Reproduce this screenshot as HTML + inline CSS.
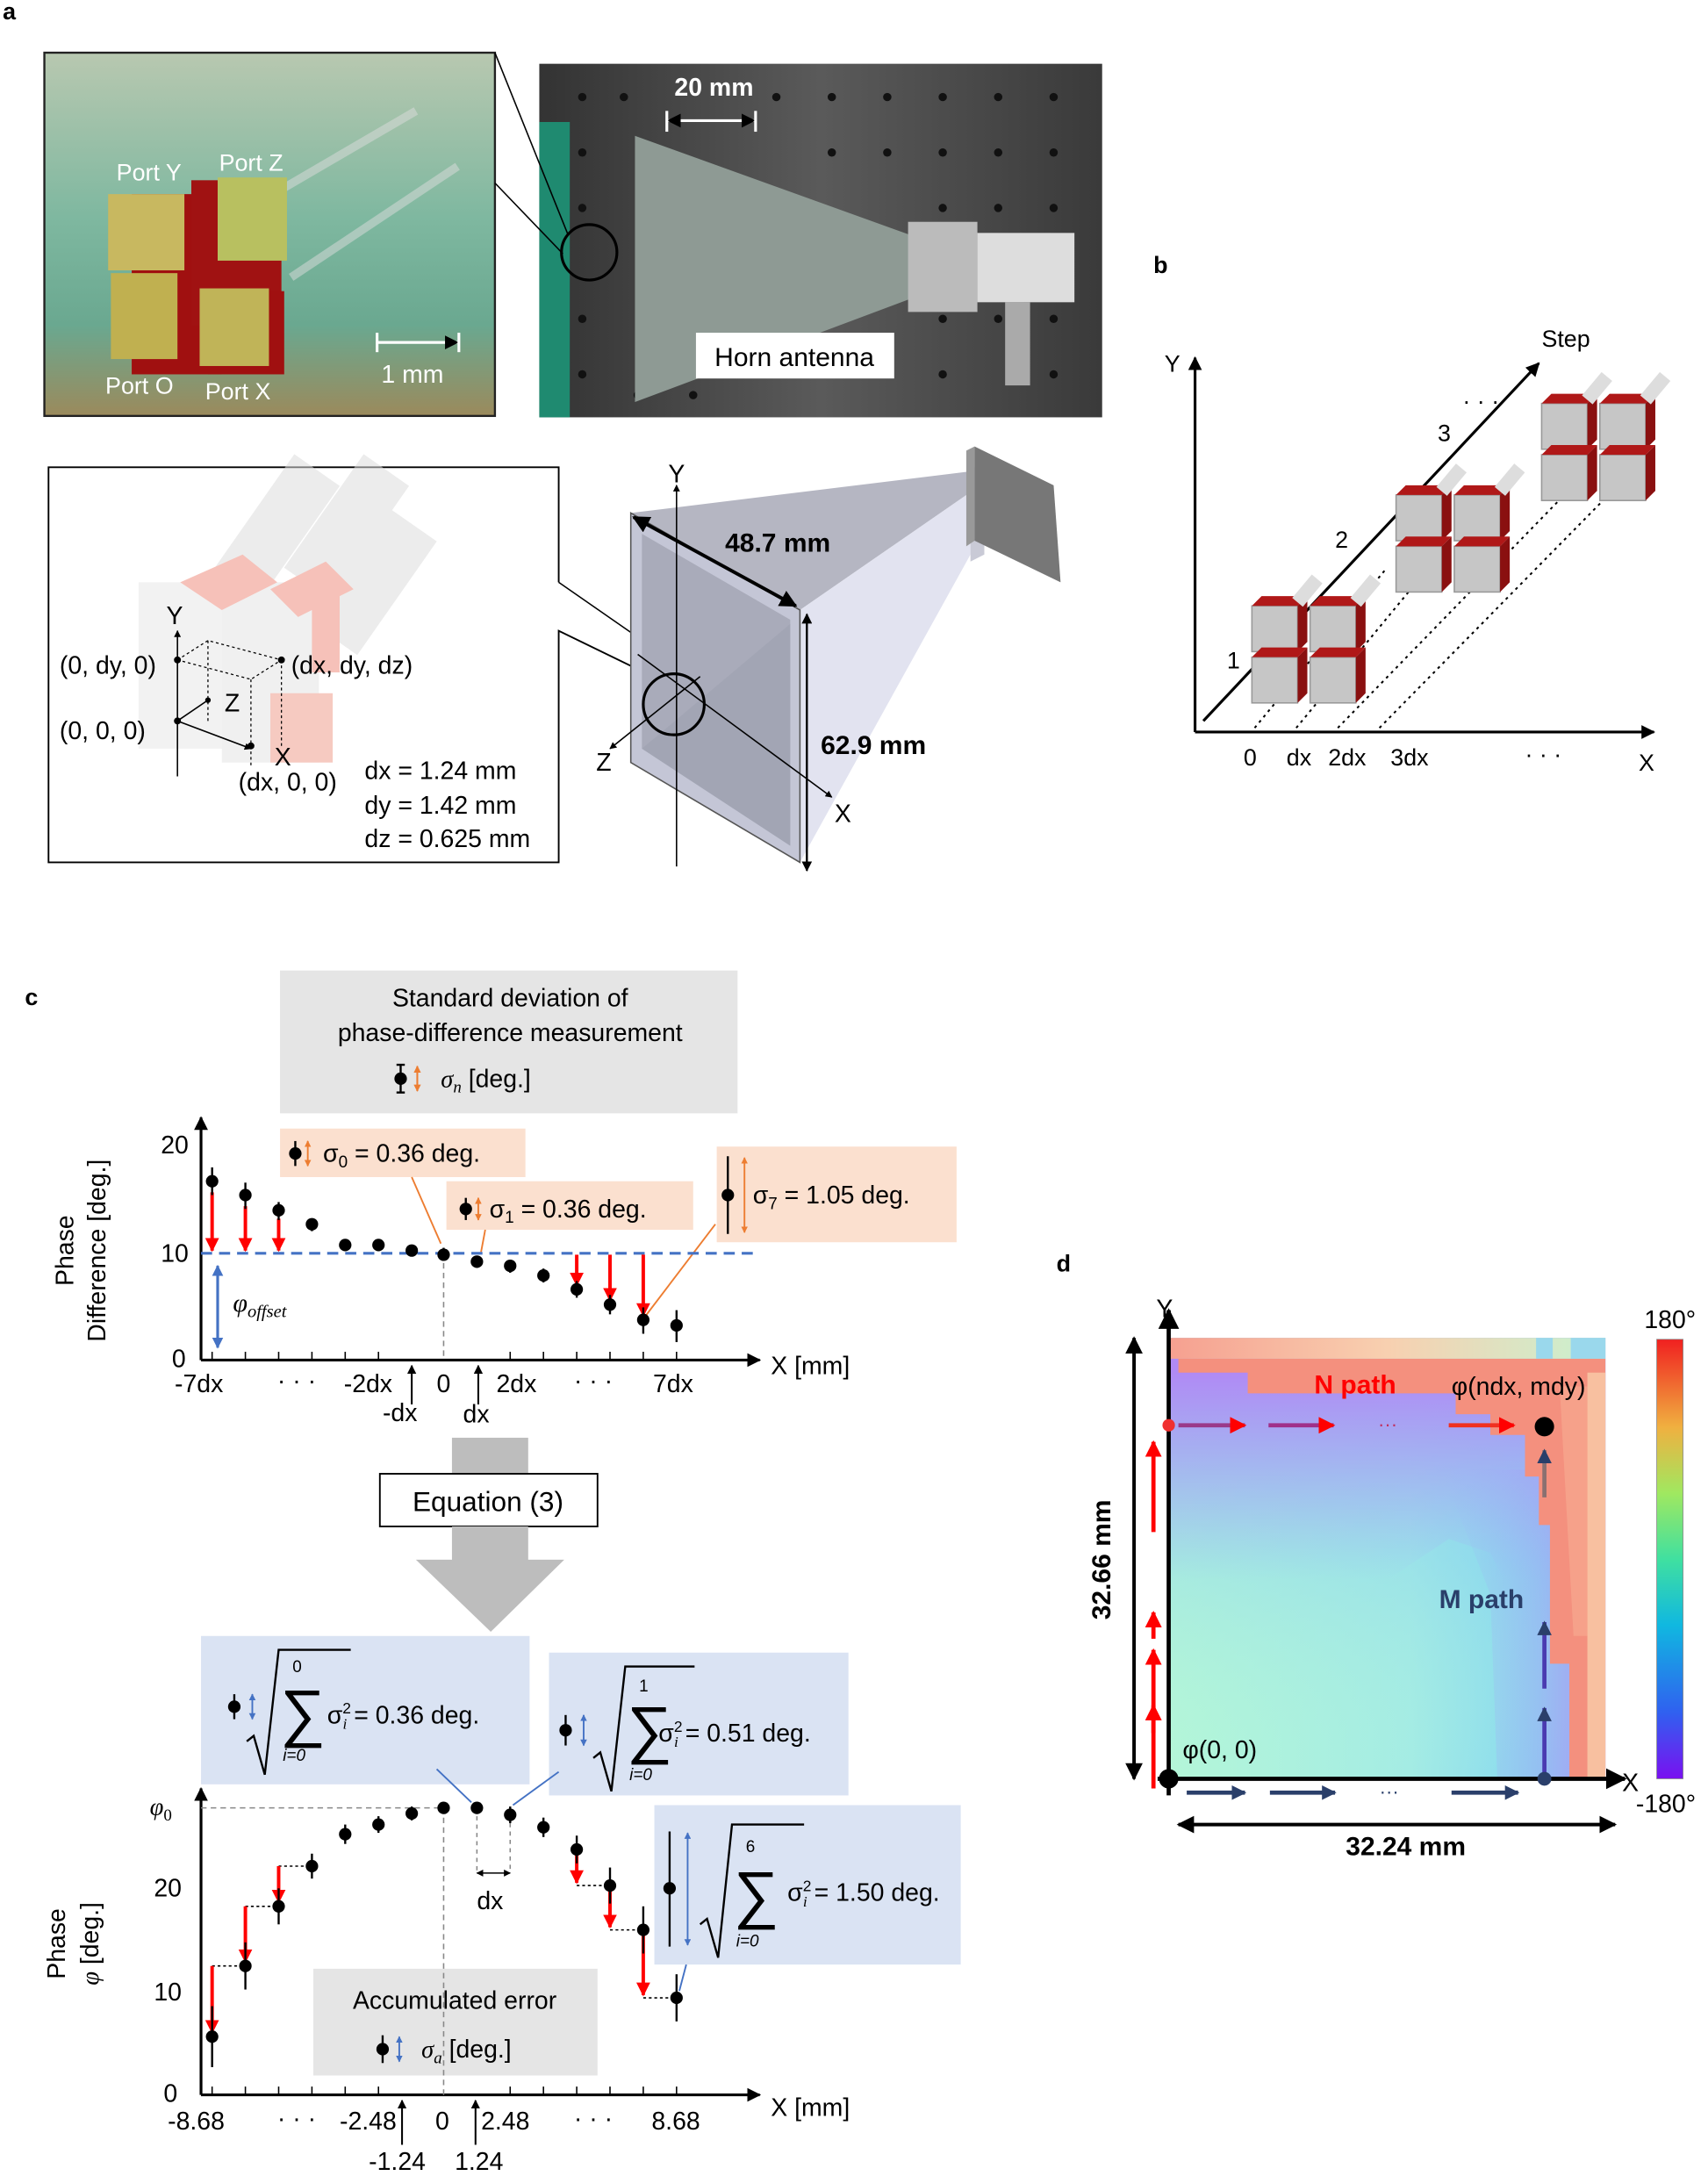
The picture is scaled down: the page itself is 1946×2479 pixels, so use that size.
<!DOCTYPE html>
<html><head><meta charset="utf-8"><style>
html,body{margin:0;padding:0;background:#fff}
svg{display:block}
text{font-family:"Liberation Sans",sans-serif}
.s{font-family:"Liberation Serif",serif;font-style:italic}
</style></head><body>
<svg width="1946" height="2479" viewBox="0 0 1232 1569.5" preserveAspectRatio="none" xmlns="http://www.w3.org/2000/svg">
<defs>
<marker id="ak" viewBox="0 0 10 10" refX="9" refY="5" markerWidth="5" markerHeight="5" orient="auto-start-reverse"><path d="M0,0L10,5L0,10z" fill="#000"/></marker>
<marker id="ar" viewBox="0 0 10 10" refX="9" refY="5" markerWidth="4" markerHeight="4" orient="auto"><path d="M0,0L10,5L0,10z" fill="#f00"/></marker>
<marker id="ab" viewBox="0 0 10 10" refX="9" refY="5" markerWidth="4" markerHeight="4" orient="auto-start-reverse"><path d="M0,0L10,5L0,10z" fill="#4472c4"/></marker>
<marker id="ao" viewBox="0 0 10 10" refX="9" refY="5" markerWidth="4" markerHeight="4" orient="auto-start-reverse"><path d="M0,0L10,5L0,10z" fill="#ed7d31"/></marker>
<marker id="an" viewBox="0 0 10 10" refX="9" refY="5" markerWidth="3.5" markerHeight="3.5" orient="auto"><path d="M0,0L10,5L0,10z" fill="#2a3f6a"/></marker>
<linearGradient id="ph1" x1="0" y1="0" x2="0" y2="1"><stop offset="0" stop-color="#b8c8b0"/><stop offset="0.45" stop-color="#7fb8a0"/><stop offset="0.75" stop-color="#6aa890"/><stop offset="1" stop-color="#9b8a5c"/></linearGradient>
<linearGradient id="ph2" x1="0" y1="0" x2="1" y2="0"><stop offset="0" stop-color="#333"/><stop offset="0.5" stop-color="#5a5a5a"/><stop offset="1" stop-color="#3a3a3a"/></linearGradient>
<linearGradient id="hx" x1="0" y1="0" x2="1" y2="0"><stop offset="0" stop-color="#b4f6d8"/><stop offset="0.55" stop-color="#a4ece4"/><stop offset="0.85" stop-color="#86d8f0"/><stop offset="1" stop-color="#9ab8f6"/></linearGradient>
<linearGradient id="hy" x1="0" y1="0" x2="0" y2="1"><stop offset="0" stop-color="#a0a8f4" stop-opacity="0.8"/><stop offset="0.5" stop-color="#8ad0f0" stop-opacity="0.35"/><stop offset="1" stop-color="#b4f6d8" stop-opacity="0"/></linearGradient>
<linearGradient id="pu" gradientUnits="userSpaceOnUse" x1="0" y1="990" x2="0" y2="1140"><stop offset="0" stop-color="#b08af4" stop-opacity="1"/><stop offset="0.35" stop-color="#a8a0f4" stop-opacity="0.75"/><stop offset="1" stop-color="#a0b8f4" stop-opacity="0"/></linearGradient>
<linearGradient id="pu2" x1="0" y1="0" x2="1" y2="0"><stop offset="0" stop-color="#9ab8f6" stop-opacity="0"/><stop offset="1" stop-color="#b08af4" stop-opacity="1"/></linearGradient>
<linearGradient id="top" x1="0" y1="0" x2="1" y2="0"><stop offset="0" stop-color="#f6a090"/><stop offset="0.5" stop-color="#f8d0b0"/><stop offset="1" stop-color="#c8f2d0"/></linearGradient>
<linearGradient id="cb" x1="0" y1="1" x2="0" y2="0"><stop offset="0" stop-color="#7a10f0"/><stop offset="0.15" stop-color="#3060f0"/><stop offset="0.35" stop-color="#10b8e0"/><stop offset="0.5" stop-color="#40e0a0"/><stop offset="0.65" stop-color="#a0e860"/><stop offset="0.8" stop-color="#f0b040"/><stop offset="1" stop-color="#f02020"/></linearGradient>
</defs>

<!-- panel a -->
<text x="2" y="14" font-size="17" font-weight="bold">a</text>
<rect x="32" y="38" width="325" height="262" fill="url(#ph1)" stroke="#222" stroke-width="1.5"/>
<g stroke="#ddd" stroke-width="6" opacity="0.5"><line x1="180" y1="150" x2="300" y2="80"/><line x1="210" y1="200" x2="330" y2="120"/></g>
<rect x="95" y="140" width="65" height="130" fill="#a01010"/><rect x="138" y="130" width="65" height="105" fill="#a01212"/><rect x="150" y="210" width="55" height="60" fill="#a01010"/>
<rect x="78" y="140" width="55" height="55" fill="#c8b860"/><rect x="157" y="128" width="50" height="60" fill="#b8c060"/>
<rect x="80" y="197" width="48" height="62" fill="#c0b050"/><rect x="144" y="208" width="50" height="56" fill="#c0b458"/>
<g fill="#fff" font-size="17"><text x="84" y="130">Port Y</text><text x="158" y="123">Port Z</text><text x="76" y="284">Port O</text><text x="148" y="288">Port X</text><text x="275" y="276" font-size="18">1 mm</text></g>
<g stroke="#fff" stroke-width="2"><line x1="272" y1="247" x2="330" y2="247" marker-end="url(#ak)"/><line x1="272" y1="240" x2="272" y2="254"/><line x1="331" y1="240" x2="331" y2="254"/></g>
<rect x="389" y="46" width="406" height="255" fill="url(#ph2)"/>
<g fill="#111">
<circle cx="420" cy="70" r="3"/><circle cx="450" cy="70" r="3"/><circle cx="560" cy="70" r="3"/><circle cx="600" cy="70" r="3"/><circle cx="640" cy="70" r="3"/><circle cx="680" cy="70" r="3"/><circle cx="720" cy="70" r="3"/><circle cx="760" cy="70" r="3"/>
<circle cx="600" cy="110" r="3"/><circle cx="640" cy="110" r="3"/><circle cx="680" cy="110" r="3"/><circle cx="720" cy="110" r="3"/><circle cx="760" cy="110" r="3"/><circle cx="420" cy="110" r="3"/>
<circle cx="680" cy="150" r="3"/><circle cx="720" cy="150" r="3"/><circle cx="760" cy="150" r="3"/><circle cx="420" cy="150" r="3"/>
<circle cx="420" cy="230" r="3"/><circle cx="680" cy="230" r="3"/><circle cx="720" cy="230" r="3"/><circle cx="760" cy="230" r="3"/><circle cx="420" cy="270" r="3"/><circle cx="460" cy="285" r="3"/><circle cx="500" cy="285" r="3"/><circle cx="680" cy="270" r="3"/><circle cx="760" cy="270" r="3"/></g>
<rect x="389" y="88" width="22" height="213" fill="#1f8a70"/>
<polygon points="458,98 658,170 658,215 458,290" fill="#8e9a94"/>
<rect x="655" y="160" width="50" height="65" fill="#bbb"/><rect x="705" y="168" width="70" height="50" fill="#ddd"/><rect x="725" y="218" width="18" height="60" fill="#aaa"/>
<circle cx="425" cy="182" r="20" fill="none" stroke="#000" stroke-width="2"/>
<line x1="357" y1="132" x2="406" y2="183" stroke="#000"/><line x1="357" y1="38" x2="410" y2="170" stroke="#000"/>
<rect x="502" y="240" width="143" height="33" fill="#fff"/><text x="573" y="264" font-size="19" text-anchor="middle">Horn antenna</text>
<text x="515" y="69" font-size="18" font-weight="bold" fill="#fff" text-anchor="middle">20 mm</text>
<g stroke="#fff" stroke-width="2"><line x1="482" y1="87" x2="544" y2="87" marker-start="url(#ak)" marker-end="url(#ak)"/><line x1="481" y1="80" x2="481" y2="95"/><line x1="545" y1="80" x2="545" y2="95"/></g>

<!-- lower a -->
<polyline points="403,420 403,337 35,337 35,622 403,622 403,455 475,490" fill="none" stroke="#000" stroke-width="1.2"/>
<line x1="403" y1="420" x2="475" y2="470" stroke="#000"/>
<g opacity="0.55">
<g fill="#ddd"><rect x="180" y="330" width="40" height="100" transform="rotate(35 200 380)"/><rect x="230" y="330" width="40" height="100" transform="rotate(35 250 380)"/><rect x="250" y="370" width="40" height="100" transform="rotate(35 270 420)"/></g>
<rect x="100" y="420" width="80" height="120" fill="#e8e8e8"/><rect x="160" y="420" width="70" height="130" fill="#e4e4e4"/>
<polygon points="130,420 175,400 200,420 160,440" fill="#f09080"/><polygon points="195,425 235,405 255,425 215,445" fill="#f09080"/>
<rect x="225" y="425" width="20" height="60" fill="#f09080"/><rect x="195" y="500" width="45" height="50" fill="#f0a090"/></g>
<g stroke="#000" stroke-width="0.8" stroke-dasharray="2,2" fill="none"><polyline points="128,476 150,462 203,476 181,490 128,476"/><line x1="150" y1="462" x2="150" y2="520"/><line x1="203" y1="476" x2="203" y2="540"/><line x1="181" y1="490" x2="181" y2="553"/></g>
<g stroke="#000"><line x1="128" y1="560" x2="128" y2="455" marker-end="url(#ak)"/><line x1="128" y1="520" x2="181" y2="540" marker-end="url(#ak)"/><line x1="128" y1="520" x2="150" y2="505"/></g>
<g fill="#000"><circle cx="128" cy="476" r="2.5"/><circle cx="128" cy="520" r="2.5"/><circle cx="181" cy="538" r="2.5"/><circle cx="203" cy="476" r="2.5"/><circle cx="150" cy="505" r="2"/></g>
<g font-size="18"><text x="120" y="450">Y</text><text x="43" y="486">(0, dy, 0)</text><text x="210" y="486">(dx, dy, dz)</text><text x="162" y="513">Z</text><text x="43" y="533">(0, 0, 0)</text><text x="198" y="552">X</text><text x="172" y="570">(dx, 0, 0)</text>
<text x="263" y="562">dx = 1.24 mm</text><text x="263" y="587">dy = 1.42 mm</text><text x="263" y="611">dz = 0.625 mm</text></g>
<!-- horn -->
<polygon points="455,370 577,440 700,355 700,340" fill="#b5b6c2"/>
<polygon points="577,440 577,622 700,400 700,355" fill="#e2e3f0"/>
<polygon points="455,370 577,440 577,622 455,550" fill="#c4c6d6" stroke="#555"/>
<polygon points="463,385 570,447 570,610 463,540" fill="#a9abba"/>
<polygon points="463,540 570,610 570,450 475,530" fill="#9fa1b0" opacity="0.6"/>
<polygon points="700,340 710,330 710,400 700,405" fill="#c9cad6"/>
<polygon points="703,322 760,350 765,420 703,390" fill="#777" /><polygon points="697,325 703,322 703,390 697,394" fill="#999"/>
<line x1="488" y1="625" x2="488" y2="350" stroke="#000" marker-end="url(#ak)"/><text x="482" y="348" font-size="18">Y</text>
<line x1="460" y1="472" x2="600" y2="575" stroke="#000" marker-end="url(#ak)"/><text x="602" y="593" font-size="18">X</text>
<line x1="505" y1="488" x2="440" y2="540" stroke="#000" marker-end="url(#ak)"/><text x="430" y="556" font-size="18">Z</text>
<circle cx="486" cy="508" r="22" fill="none" stroke="#000" stroke-width="2"/>
<line x1="457" y1="373" x2="574" y2="437" stroke="#000" stroke-width="2.5" marker-start="url(#ak)" marker-end="url(#ak)"/>
<text x="523" y="398" font-size="19" font-weight="bold">48.7 mm</text>
<line x1="582" y1="443" x2="582" y2="628" stroke="#000" stroke-width="1.5" marker-start="url(#ak)" marker-end="url(#ak)"/>
<text x="592" y="544" font-size="19" font-weight="bold">62.9 mm</text>

<!-- panel b -->
<text x="832" y="197" font-size="17" font-weight="bold">b</text>
<g stroke="#000" stroke-width="2"><line x1="862" y1="528" x2="862" y2="258" marker-end="url(#ak)"/><line x1="862" y1="528" x2="1193" y2="528" marker-end="url(#ak)"/><line x1="868" y1="520" x2="1110" y2="262" marker-end="url(#ak)"/></g>
<g stroke="#000" stroke-dasharray="2,3" stroke-width="1.3"><line x1="905" y1="525" x2="1000" y2="410"/><line x1="935" y1="525" x2="1030" y2="410"/><line x1="965" y1="525" x2="1140" y2="345"/><line x1="995" y1="525" x2="1172" y2="345"/></g>
<g font-size="17"><text x="840" y="268">Y</text><text x="1112" y="250">Step</text><text x="885" y="482">1</text><text x="963" y="395">2</text><text x="1037" y="318">3</text><text x="897" y="552">0</text><text x="928" y="552">dx</text><text x="958" y="552">2dx</text><text x="1003" y="552">3dx</text><text x="1100" y="550">·  ·  ·</text><text x="1182" y="556">X</text><text x="1055" y="295">· · ·</text></g>
<g>
<g id="c1"><rect x="903" y="437" width="33" height="33" fill="#c6c6c6" stroke="#999"/><polygon points="903,437 910,430 943,430 936,437" fill="#b01818"/><polygon points="936,437 943,430 943,463 936,470" fill="#8a1010"/>
<rect x="945" y="437" width="33" height="33" fill="#c6c6c6" stroke="#999"/><polygon points="945,437 952,430 985,430 978,437" fill="#b01818"/><polygon points="978,437 985,430 985,463 978,470" fill="#8a1010"/>
<rect x="903" y="474" width="33" height="33" fill="#c6c6c6" stroke="#999"/><polygon points="903,474 910,467 943,467 936,474" fill="#b01818"/><polygon points="936,474 943,467 943,500 936,507" fill="#8a1010"/>
<rect x="945" y="474" width="33" height="33" fill="#c6c6c6" stroke="#999"/><polygon points="945,474 952,467 985,467 978,474" fill="#b01818"/><polygon points="978,474 985,467 985,500 978,507" fill="#8a1010"/>
<g fill="#ddd"><rect x="938" y="415" width="10" height="22" transform="rotate(40 943 426)"/><rect x="980" y="415" width="10" height="22" transform="rotate(40 985 426)"/></g></g>
<use href="#c1" transform="translate(104,-80)"/>
<use href="#c1" transform="translate(209,-146)"/>
</g>

<!-- panel c -->
<text x="18" y="725" font-size="17" font-weight="bold">c</text>
<rect x="202" y="700" width="330" height="103" fill="#e5e5e5"/>
<g font-size="18" text-anchor="middle"><text x="368" y="726">Standard deviation of</text><text x="368" y="751">phase-difference measurement</text></g>
<g stroke="#000" stroke-width="1.5"><line x1="289" y1="768" x2="289" y2="788"/><line x1="286" y1="768" x2="292" y2="768"/><line x1="286" y1="788" x2="292" y2="788"/></g><circle cx="289" cy="778" r="4.5"/>
<line x1="301" y1="769" x2="301" y2="787" stroke="#ed7d31" stroke-width="1.3" marker-start="url(#ao)" marker-end="url(#ao)"/>
<text x="318" y="784" font-size="18"><tspan class="s">σ</tspan><tspan class="s" font-size="12" dy="4">n</tspan><tspan dy="-4"> [deg.]</tspan></text>

<rect x="202" y="814" width="177" height="35" fill="#fbe0cf"/>
<rect x="322" y="852" width="178" height="35" fill="#fbe0cf"/>
<rect x="517" y="827" width="173" height="69" fill="#fbe0cf"/>
<g font-size="18"><text x="233" y="838">σ<tspan font-size="12" dy="4">0</tspan><tspan dy="-4"> = 0.36 deg.</tspan></text><text x="353" y="878">σ<tspan font-size="12" dy="4">1</tspan><tspan dy="-4"> = 0.36 deg.</tspan></text><text x="543" y="868">σ<tspan font-size="12" dy="4">7</tspan><tspan dy="-4"> = 1.05 deg.</tspan></text></g>
<g stroke="#000" stroke-width="1.5"><line x1="213" y1="823" x2="213" y2="841"/><line x1="336" y1="864" x2="336" y2="880"/><line x1="525" y1="834" x2="525" y2="890"/></g>
<circle cx="213" cy="832" r="4.5"/><circle cx="336" cy="872" r="4.5"/><circle cx="525" cy="862" r="4.5"/>
<g stroke="#ed7d31" stroke-width="1.2"><line x1="222" y1="823" x2="222" y2="841" marker-start="url(#ao)" marker-end="url(#ao)"/><line x1="345" y1="864" x2="345" y2="880" marker-start="url(#ao)" marker-end="url(#ao)"/><line x1="537" y1="835" x2="537" y2="889" marker-start="url(#ao)" marker-end="url(#ao)"/>
<line x1="297" y1="849" x2="318" y2="897"/><line x1="350" y1="887" x2="347" y2="903"/><line x1="516" y1="883" x2="465" y2="950"/></g>

<!-- top plot -->
<g stroke="#000" stroke-width="2"><line x1="145" y1="981" x2="145" y2="806" marker-end="url(#ak)"/><line x1="145" y1="981" x2="548" y2="981" marker-end="url(#ak)"/></g>
<g font-size="18"><text x="116" y="832">20</text><text x="116" y="910">10</text><text x="124" y="986">0</text><text x="556" y="991">X [mm]</text>
<text x="126" y="1004">-7dx</text><text x="200" y="1002">·  ·  ·</text><text x="248" y="1004">-2dx</text><text x="315" y="1004">0</text><text x="358" y="1004">2dx</text><text x="414" y="1002">·  ·  ·</text><text x="471" y="1004">7dx</text><text x="276" y="1025">-dx</text><text x="334" y="1026">dx</text></g>
<g stroke="#000" stroke-width="1.3"><line x1="297" y1="1013" x2="297" y2="985" marker-end="url(#ak)"/><line x1="345" y1="1013" x2="345" y2="985" marker-end="url(#ak)"/></g>
<text transform="translate(53,902) rotate(-90)" font-size="18" text-anchor="middle">Phase</text>
<text transform="translate(76,902) rotate(-90)" font-size="18" text-anchor="middle">Difference [deg.]</text>
<line x1="145" y1="904" x2="548" y2="904" stroke="#4472c4" stroke-width="2" stroke-dasharray="8,5"/>
<line x1="320" y1="904" x2="320" y2="981" stroke="#888" stroke-dasharray="4,3"/>
<line x1="157" y1="913" x2="157" y2="972" stroke="#4472c4" stroke-width="2" marker-start="url(#ab)" marker-end="url(#ab)"/>
<text x="168" y="946" class="s" font-size="19">φ<tspan font-size="13" dy="4">offset</tspan></text>
<g stroke="#f00" stroke-width="2.5"><line x1="153" y1="860" x2="153" y2="902" marker-end="url(#ar)"/><line x1="177" y1="870" x2="177" y2="902" marker-end="url(#ar)"/><line x1="201" y1="879" x2="201" y2="902" marker-end="url(#ar)"/>
<line x1="416" y1="905" x2="416" y2="927" marker-end="url(#ar)"/><line x1="440" y1="905" x2="440" y2="938" marker-end="url(#ar)"/><line x1="464" y1="905" x2="464" y2="949" marker-end="url(#ar)"/></g>
<g stroke="#000" stroke-width="1.5">
<line x1="153" y1="842" x2="153" y2="862"/><line x1="177" y1="853" x2="177" y2="872"/><line x1="201" y1="867" x2="201" y2="880"/><line x1="225" y1="879" x2="225" y2="888"/><line x1="249" y1="894" x2="249" y2="902"/><line x1="273" y1="894" x2="273" y2="902"/><line x1="297" y1="898" x2="297" y2="906"/><line x1="320" y1="900" x2="320" y2="909"/><line x1="344" y1="906" x2="344" y2="914"/><line x1="368" y1="909" x2="368" y2="918"/><line x1="392" y1="915" x2="392" y2="925"/><line x1="416" y1="924" x2="416" y2="936"/><line x1="440" y1="934" x2="440" y2="948"/><line x1="464" y1="943" x2="464" y2="962"/><line x1="488" y1="945" x2="488" y2="968"/></g>
<g fill="#000"><circle cx="153" cy="852" r="4.5"/><circle cx="177" cy="862" r="4.5"/><circle cx="201" cy="873" r="4.5"/><circle cx="225" cy="883" r="4.5"/><circle cx="249" cy="898" r="4.5"/><circle cx="273" cy="898" r="4.5"/><circle cx="297" cy="902" r="4.5"/><circle cx="320" cy="905" r="4.5"/><circle cx="344" cy="910" r="4.5"/><circle cx="368" cy="913" r="4.5"/><circle cx="392" cy="920" r="4.5"/><circle cx="416" cy="930" r="4.5"/><circle cx="440" cy="941" r="4.5"/><circle cx="464" cy="952" r="4.5"/><circle cx="488" cy="956" r="4.5"/></g>
<g stroke="#000" stroke-width="1"><line x1="153" y1="981" x2="153" y2="975"/><line x1="177" y1="981" x2="177" y2="975"/><line x1="201" y1="981" x2="201" y2="975"/><line x1="225" y1="981" x2="225" y2="975"/><line x1="249" y1="981" x2="249" y2="975"/><line x1="273" y1="981" x2="273" y2="975"/><line x1="368" y1="981" x2="368" y2="975"/><line x1="392" y1="981" x2="392" y2="975"/><line x1="416" y1="981" x2="416" y2="975"/><line x1="440" y1="981" x2="440" y2="975"/><line x1="464" y1="981" x2="464" y2="975"/><line x1="488" y1="981" x2="488" y2="975"/></g>

<!-- equation arrow -->
<rect x="326" y="1037" width="55" height="26" fill="#bdbdbd"/>
<rect x="274" y="1063" width="157" height="38" fill="#fff" stroke="#000" stroke-width="1.2"/>
<text x="352" y="1090" font-size="20" text-anchor="middle">Equation (3)</text>
<polygon points="326,1101 381,1101 381,1125 407,1125 354,1177 300,1125 326,1125" fill="#bdbdbd"/>

<!-- blue boxes -->
<rect x="145" y="1180" width="237" height="107" fill="#dae3f3"/>
<rect x="396" y="1192" width="216" height="103" fill="#dae3f3"/>
<rect x="472" y="1302" width="221" height="115" fill="#dae3f3"/>
<rect x="226" y="1420" width="205" height="77" fill="#e5e5e5"/>
<g font-family="Liberation Serif,serif">
<path d="M178,1256 l5,-4 l8,28 l10,-90 h52" fill="none" stroke="#000" stroke-width="1.5"/>
<text x="202" y="1251" font-size="46" font-family="DejaVu Sans,sans-serif">∑</text><text x="211" y="1206" font-size="12">0</text><text x="204" y="1270" font-size="12" font-style="italic">i=0</text>
<path d="M428,1268 l5,-4 l8,28 l10,-90 h50" fill="none" stroke="#000" stroke-width="1.5"/>
<text x="452" y="1263" font-size="46" font-family="DejaVu Sans,sans-serif">∑</text><text x="461" y="1220" font-size="12">1</text><text x="454" y="1284" font-size="12" font-style="italic">i=0</text>
<path d="M505,1388 l5,-4 l8,28 l10,-96 h52" fill="none" stroke="#000" stroke-width="1.5"/>
<text x="529" y="1382" font-size="46" font-family="DejaVu Sans,sans-serif">∑</text><text x="538" y="1336" font-size="12">6</text><text x="531" y="1404" font-size="12" font-style="italic">i=0</text>
</g>
<g font-size="18"><text x="236" y="1243">σ<tspan font-size="11" dy="-7">2</tspan><tspan font-size="11" dx="-6" dy="11" class="s">i</tspan><tspan dy="-4"> = 0.36 deg.</tspan></text>
<text x="475" y="1256">σ<tspan font-size="11" dy="-7">2</tspan><tspan font-size="11" dx="-6" dy="11" class="s">i</tspan><tspan dy="-4"> = 0.51 deg.</tspan></text>
<text x="568" y="1371">σ<tspan font-size="11" dy="-7">2</tspan><tspan font-size="11" dx="-6" dy="11" class="s">i</tspan><tspan dy="-4"> = 1.50 deg.</tspan></text>
<text x="328" y="1449" text-anchor="middle">Accumulated error</text>
<text x="304" y="1484"><tspan class="s">σ</tspan><tspan class="s" font-size="12" dy="4">a</tspan><tspan dy="-4"> [deg.]</tspan></text></g>
<g stroke="#000" stroke-width="1.5"><line x1="169" y1="1222" x2="169" y2="1240"/><line x1="408" y1="1237" x2="408" y2="1259"/><line x1="483" y1="1321" x2="483" y2="1404"/><line x1="276" y1="1468" x2="276" y2="1488"/></g>
<circle cx="169" cy="1231" r="4.5"/><circle cx="408" cy="1248" r="4.5"/><circle cx="483" cy="1362" r="4.5"/><circle cx="276" cy="1478" r="4.5"/>
<g stroke="#4472c4" stroke-width="1.2"><line x1="182" y1="1222" x2="182" y2="1240" marker-start="url(#ab)" marker-end="url(#ab)"/><line x1="421" y1="1237" x2="421" y2="1259" marker-start="url(#ab)" marker-end="url(#ab)"/><line x1="496" y1="1322" x2="496" y2="1403" marker-start="url(#ab)" marker-end="url(#ab)"/><line x1="288" y1="1469" x2="288" y2="1487" marker-start="url(#ab)" marker-end="url(#ab)"/>
<line x1="315" y1="1276" x2="340" y2="1300"/><line x1="403" y1="1278" x2="370" y2="1302"/><line x1="495" y1="1417" x2="490" y2="1436"/></g>

<!-- bottom plot -->
<g stroke="#000" stroke-width="2"><line x1="145" y1="1511" x2="145" y2="1290" marker-end="url(#ak)"/><line x1="145" y1="1511" x2="548" y2="1511" marker-end="url(#ak)"/></g>
<line x1="145" y1="1304" x2="320" y2="1304" stroke="#888" stroke-dasharray="4,3"/>
<line x1="320" y1="1304" x2="320" y2="1511" stroke="#888" stroke-dasharray="4,3"/>
<g stroke="#888" stroke-dasharray="3,3"><line x1="344" y1="1310" x2="344" y2="1350"/><line x1="368" y1="1315" x2="368" y2="1350"/></g>
<line x1="344" y1="1351" x2="368" y2="1351" stroke="#000" marker-start="url(#ak)" marker-end="url(#ak)"/>
<text x="344" y="1377" font-size="18">dx</text>
<g font-size="18"><text x="108" y="1309" class="s">φ<tspan font-size="12" dy="4" font-style="normal">0</tspan></text><text x="111" y="1368">20</text><text x="111" y="1443">10</text><text x="118" y="1516">0</text><text x="556" y="1526">X [mm]</text>
<text x="121" y="1536">-8.68</text><text x="200" y="1534">·  ·  ·</text><text x="245" y="1536">-2.48</text><text x="314" y="1536">0</text><text x="347" y="1536">2.48</text><text x="414" y="1534">·  ·  ·</text><text x="470" y="1536">8.68</text><text x="266" y="1565">-1.24</text><text x="328" y="1565">1.24</text></g>
<g stroke="#000" stroke-width="1.3"><line x1="290" y1="1547" x2="290" y2="1515" marker-end="url(#ak)"/><line x1="343" y1="1547" x2="343" y2="1515" marker-end="url(#ak)"/></g>
<text transform="translate(47,1402) rotate(-90)" font-size="18" text-anchor="middle">Phase</text>
<text transform="translate(71,1402) rotate(-90)" font-size="18" text-anchor="middle"><tspan class="s">φ</tspan> [deg.]</text>
<g stroke="#000" stroke-dasharray="2,2"><line x1="153" y1="1418" x2="177" y2="1418"/><line x1="177" y1="1375" x2="201" y2="1375"/><line x1="201" y1="1346" x2="225" y2="1346"/><line x1="416" y1="1360" x2="440" y2="1360"/><line x1="440" y1="1392" x2="464" y2="1392"/><line x1="464" y1="1441" x2="488" y2="1441"/></g>
<g stroke="#f00" stroke-width="2.5"><line x1="153" y1="1418" x2="153" y2="1466" marker-end="url(#ar)"/><line x1="177" y1="1375" x2="177" y2="1415" marker-end="url(#ar)"/><line x1="201" y1="1346" x2="201" y2="1372" marker-end="url(#ar)"/>
<line x1="416" y1="1334" x2="416" y2="1358" marker-end="url(#ar)"/><line x1="440" y1="1360" x2="440" y2="1390" marker-end="url(#ar)"/><line x1="464" y1="1392" x2="464" y2="1439" marker-end="url(#ar)"/></g>
<g stroke="#000" stroke-width="1.5"><line x1="153" y1="1447" x2="153" y2="1491"/><line x1="177" y1="1401" x2="177" y2="1435"/><line x1="201" y1="1362" x2="201" y2="1388"/><line x1="225" y1="1337" x2="225" y2="1355"/><line x1="249" y1="1316" x2="249" y2="1330"/><line x1="273" y1="1310" x2="273" y2="1322"/><line x1="297" y1="1303" x2="297" y2="1313"/><line x1="344" y1="1300" x2="344" y2="1308"/><line x1="368" y1="1303" x2="368" y2="1315"/><line x1="392" y1="1311" x2="392" y2="1325"/><line x1="416" y1="1324" x2="416" y2="1344"/><line x1="440" y1="1347" x2="440" y2="1373"/><line x1="464" y1="1375" x2="464" y2="1409"/><line x1="488" y1="1424" x2="488" y2="1458"/></g>
<g fill="#000"><circle cx="153" cy="1469" r="4.5"/><circle cx="177" cy="1418" r="4.5"/><circle cx="201" cy="1375" r="4.5"/><circle cx="225" cy="1346" r="4.5"/><circle cx="249" cy="1323" r="4.5"/><circle cx="273" cy="1316" r="4.5"/><circle cx="297" cy="1308" r="4.5"/><circle cx="320" cy="1304" r="4.5"/><circle cx="344" cy="1304" r="4.5"/><circle cx="368" cy="1309" r="4.5"/><circle cx="392" cy="1318" r="4.5"/><circle cx="416" cy="1334" r="4.5"/><circle cx="440" cy="1360" r="4.5"/><circle cx="464" cy="1392" r="4.5"/><circle cx="488" cy="1441" r="4.5"/></g>
<g stroke="#000" stroke-width="1"><line x1="153" y1="1511" x2="153" y2="1505"/><line x1="177" y1="1511" x2="177" y2="1505"/><line x1="201" y1="1511" x2="201" y2="1505"/><line x1="225" y1="1511" x2="225" y2="1505"/><line x1="249" y1="1511" x2="249" y2="1505"/><line x1="273" y1="1511" x2="273" y2="1505"/><line x1="368" y1="1511" x2="368" y2="1505"/><line x1="392" y1="1511" x2="392" y2="1505"/><line x1="416" y1="1511" x2="416" y2="1505"/><line x1="440" y1="1511" x2="440" y2="1505"/><line x1="464" y1="1511" x2="464" y2="1505"/><line x1="488" y1="1511" x2="488" y2="1505"/></g>

<!-- panel d -->
<text x="762" y="917" font-size="17" font-weight="bold">d</text>
<rect x="843" y="965" width="315" height="318" fill="url(#hx)"/>
<rect x="843" y="965" width="315" height="318" fill="url(#hy)"/>
<polygon points="843,980 1158,980 1158,1283 1108,1283 1100,1200 1090,1150 1075,1120 1045,1110 1000,1140 900,1140 843,1140" fill="url(#pu)"/>
<polygon points="1040,1060 1158,1060 1158,1283 1080,1283 1075,1150" fill="url(#pu2)" opacity="0.7"/>
<polygon points="850,980 1158,980 1158,1283 1132,1283 1132,1200 1118,1200 1118,1100 1110,1100 1110,1065 1100,1065 1100,1035 1075,1035 1075,1020 1050,1020 1050,1005 900,1005 900,990 850,990" fill="#f4907e"/>
<polygon points="1145,990 1158,990 1158,1283 1145,1283" fill="#f8c0a0"/>
<polygon points="1125,1000 1145,1000 1145,1180 1135,1180" fill="#f6a890" opacity="0.7"/>
<rect x="843" y="965" width="315" height="15" fill="url(#top)"/>
<rect x="1108" y="965" width="12" height="15" fill="#9ad8ec"/><rect x="1133" y="965" width="25" height="15" fill="#9ad8ec"/>
<g stroke="#000" stroke-width="3"><line x1="843" y1="1295" x2="843" y2="945" marker-end="url(#ak)"/><line x1="835" y1="1283" x2="1172" y2="1283" marker-end="url(#ak)"/></g>
<line x1="818" y1="1283" x2="818" y2="965" stroke="#000" stroke-width="2.5" marker-start="url(#ak)" marker-end="url(#ak)"/>
<line x1="850" y1="1316" x2="1165" y2="1316" stroke="#000" stroke-width="2.5" marker-start="url(#ak)" marker-end="url(#ak)"/>
<text transform="translate(801,1125) rotate(-90)" font-size="19" font-weight="bold" text-anchor="middle">32.66 mm</text>
<text x="1014" y="1338" font-size="19" font-weight="bold" text-anchor="middle">32.24 mm</text>
<g font-size="18"><text x="834" y="950">Y</text><text x="1170" y="1292">X</text><text x="853" y="1268">φ(0, 0)</text><text x="1047" y="1006">φ(ndx, mdy)</text></g>
<text x="948" y="1005" font-size="19" font-weight="bold" fill="#f00">N path</text>
<text x="1038" y="1160" font-size="19" font-weight="bold" fill="#2a3f6a">M path</text>
<g stroke-width="3"><line x1="850" y1="1028" x2="898" y2="1028" stroke="#9a3a8a" marker-end="url(#ar)"/><line x1="915" y1="1028" x2="962" y2="1028" stroke="#a0308a" marker-end="url(#ar)"/><line x1="1045" y1="1028" x2="1092" y2="1028" stroke="#f03020" marker-end="url(#ar)"/>
<line x1="832" y1="1290" x2="832" y2="1230" stroke="#f00" marker-end="url(#ar)"/><line x1="832" y1="1250" x2="832" y2="1190" stroke="#f00" marker-end="url(#ar)"/><line x1="832" y1="1182" x2="832" y2="1163" stroke="#f00" marker-end="url(#ar)"/><line x1="832" y1="1105" x2="832" y2="1040" stroke="#f00" marker-end="url(#ar)"/>
<line x1="856" y1="1293" x2="898" y2="1293" stroke="#2a3f6a" marker-end="url(#an)"/><line x1="916" y1="1293" x2="963" y2="1293" stroke="#2a3f6a" marker-end="url(#an)"/><line x1="1047" y1="1293" x2="1095" y2="1293" stroke="#2a3f6a" marker-end="url(#an)"/>
<line x1="1114" y1="1280" x2="1114" y2="1232" stroke="#4a3ab0" marker-end="url(#an)"/><line x1="1114" y1="1218" x2="1114" y2="1170" stroke="#4a3ab0" marker-end="url(#an)"/><line x1="1114" y1="1080" x2="1114" y2="1046" stroke="#8a7070" marker-end="url(#an)"/></g>
<g font-size="14"><text x="994" y="1032" fill="#c03060">···</text><text x="995" y="1297" fill="#2a3f6a">···</text></g>
<circle cx="843" cy="1028" r="4.5" fill="#f03030"/><circle cx="843" cy="1283" r="7" fill="#000"/><circle cx="1114" cy="1283" r="5" fill="#2a3f6a"/><circle cx="1114" cy="1029" r="7" fill="#000"/>
<rect x="1195" y="966" width="19" height="317" fill="url(#cb)" stroke="#888" stroke-width="0.5"/>
<text x="1186" y="958" font-size="18">180°</text><text x="1180" y="1307" font-size="18">-180°</text>
</svg>
</body></html>
